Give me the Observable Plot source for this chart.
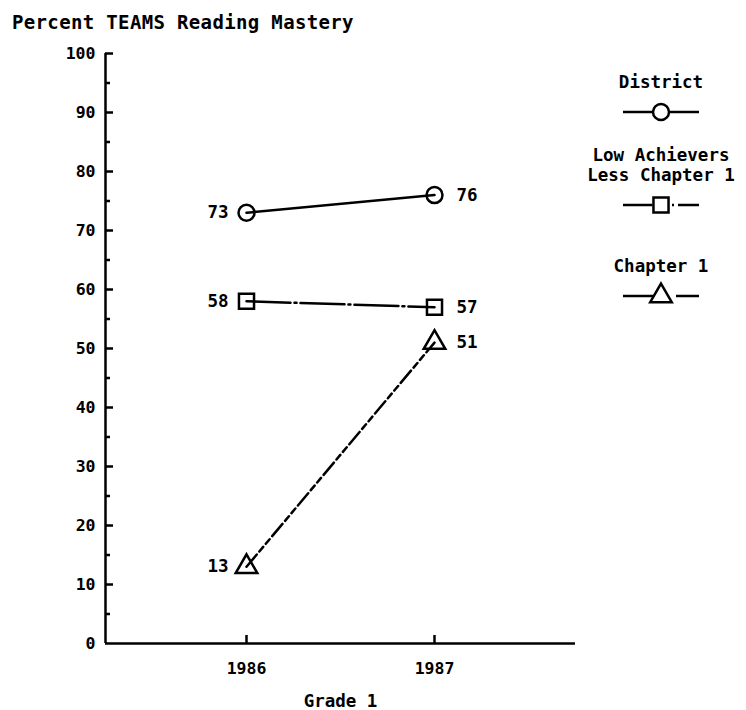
<!DOCTYPE html>
<html>
<head>
<meta charset="utf-8">
<script src="https://cdn.jsdelivr.net/npm/d3@7"></script>
<script src="https://cdn.jsdelivr.net/npm/@observablehq/plot@0.6"></script>
<style>
  html, body { margin: 0; padding: 0; background: #fff; }
  #wrap { position: relative; width: 746px; height: 710px; overflow: hidden; }
  #title { position: absolute; left: 12px; top: 11px; font-family: "DejaVu Sans Mono", monospace; font-weight: bold; font-size: 19px; color: #000; letter-spacing: 0.35px; white-space: nowrap; }
</style>
</head>
<body>
<div id="wrap">
  <div id="chart"></div>
  <div id="title">Percent TEAMS Reading Mastery</div>
</div>
<script>
// ---- data ----
const years = [1986, 1987];
const seriesNames = ["District", "Low Achievers Less Chapter 1", "Chapter 1"];
const legendLines = [["District"], ["Low Achievers", "Less Chapter 1"], ["Chapter 1"]];
const district = [73, 76];
const lowAchievers = [58, 57];
const chapter1 = [13, 51];
const yTicks = [0, 10, 20, 30, 40, 50, 60, 70, 80, 90, 100];
const yMinorTicks = [5, 15, 25, 35, 45, 55, 65, 75, 85, 95];
const xDomain = [1985.25, 1987.75];
const xLabel = "Grade 1";

// ---- styles (not data) ----
const styles = {
  "District": {symbol: "circle", r: 8, dash: null, legendRight: {start: 9, dash: null}},
  "Low Achievers Less Chapter 1": {symbol: "square", r: 8.5, dash: "44,4,2,4", legendRight: {start: 11, dash: "2,4,40"}},
  "Chapter 1": {symbol: "triangle", r: 8, dash: "16,4,6,4,6,4", legendRight: {start: 8, dash: "0,7,40"}}
};
const valuesBySeries = [district, lowAchievers, chapter1];
const rows = [];
seriesNames.forEach((s, i) => years.forEach((y, j) => rows.push({series: s, year: y, value: valuesBySeries[i][j]})));

const W = 746, H = 710, mL = 105, mR = 171, mT = 53, mB = 67;
const innerW = W - mL - mR, innerH = H - mT - mB;
const font = "DejaVu Sans Mono";

const marks = [];
// axis tick labels
marks.push(Plot.axisY(yTicks, {tickSize: 0, tickPadding: 10, label: null, fontSize: 16.5, fontWeight: "bold"}));
marks.push(Plot.axisX(years, {tickSize: 0, tickPadding: 19, label: null, tickFormat: d => String(d), fontSize: 16.5, fontWeight: "bold"}));
// axis lines
marks.push(Plot.ruleX([xDomain[0]], {stroke: "black", strokeWidth: 2.5}));
marks.push(Plot.ruleY([0], {stroke: "black", strokeWidth: 2.5}));
// inward ticks
marks.push(Plot.tickY(yTicks.filter(d => d > 0), {y: d => d, insetRight: innerW - 8, stroke: "black", strokeWidth: 2.5}));
marks.push(Plot.tickY(yMinorTicks, {y: d => d, insetRight: innerW - 5, stroke: "black", strokeWidth: 2.5}));
marks.push(Plot.tickX(years, {x: d => d, insetTop: innerH - 8, stroke: "black", strokeWidth: 2.5}));
// x axis title
marks.push(Plot.text([xLabel], {frameAnchor: "bottom", dy: 63, fontSize: 17.5, fontWeight: "bold"}));
// series
for (const s of seriesNames) {
  const st = styles[s];
  const d = rows.filter(r => r.series === s);
  marks.push(Plot.line(d, {x: "year", y: "value", stroke: "black", strokeWidth: 2.5, strokeDasharray: st.dash}));
  marks.push(Plot.dot(d, {x: "year", y: "value", symbol: () => st.symbol, r: st.r, stroke: "black", strokeWidth: 2.5, fill: "none"}));
}
marks.push(Plot.text(rows.filter(r => r.year === years[0]), {x: "year", y: "value", text: r => String(r.value), textAnchor: "end", dx: -18, fontSize: 17.5, fontWeight: "bold"}));
marks.push(Plot.text(rows.filter(r => r.year === years[1]), {x: "year", y: "value", text: r => String(r.value), textAnchor: "start", dx: 22, fontSize: 17.5, fontWeight: "bold"}));

const chart = Plot.plot({
  width: W, height: H,
  marginLeft: mL, marginRight: mR, marginTop: mT, marginBottom: mB,
  style: {fontFamily: font, fontWeight: "bold", fontSize: "16px", color: "#000", background: "#fff"},
  x: {domain: xDomain},
  y: {domain: [0, 100]},
  symbol: {type: "identity"},
  marks
});
document.getElementById("chart").appendChild(chart);

// ---- legend (drawn into the same SVG) ----
const svg = d3.select(chart);
const lg = svg.append("g").attr("font-family", font).attr("font-weight", "bold").attr("font-size", 17.5).attr("fill", "black");
const legendX = 661, legendHalf = 38;
const legendTop = [82, 155, 266];
const symbolGen = {circle: d3.symbolCircle, square: d3.symbolSquare, triangle: d3.symbolTriangle};
seriesNames.forEach((s, i) => {
  const st = styles[s];
  const lines = legendLines[i];
  lines.forEach((t, k) => {
    lg.append("text").attr("x", legendX).attr("y", legendTop[i] + k * 20).attr("text-anchor", "middle").attr("dy", "0.35em").text(t);
  });
  const sy = legendTop[i] + (lines.length - 1) * 20 + 30;
  lg.append("line").attr("x1", legendX - legendHalf).attr("x2", legendX - st.r).attr("y1", sy).attr("y2", sy)
    .attr("stroke", "black").attr("stroke-width", 2.5);
  lg.append("line").attr("x1", legendX + st.legendRight.start).attr("x2", legendX + legendHalf).attr("y1", sy).attr("y2", sy)
    .attr("stroke", "black").attr("stroke-width", 2.5).attr("stroke-dasharray", st.legendRight.dash);
  lg.append("path").attr("transform", `translate(${legendX},${sy})`)
    .attr("d", d3.symbol(symbolGen[st.symbol], Math.PI * st.r * st.r)())
    .attr("fill", "none").attr("stroke", "black").attr("stroke-width", 2.5);
});
</script>
</body>
</html>
